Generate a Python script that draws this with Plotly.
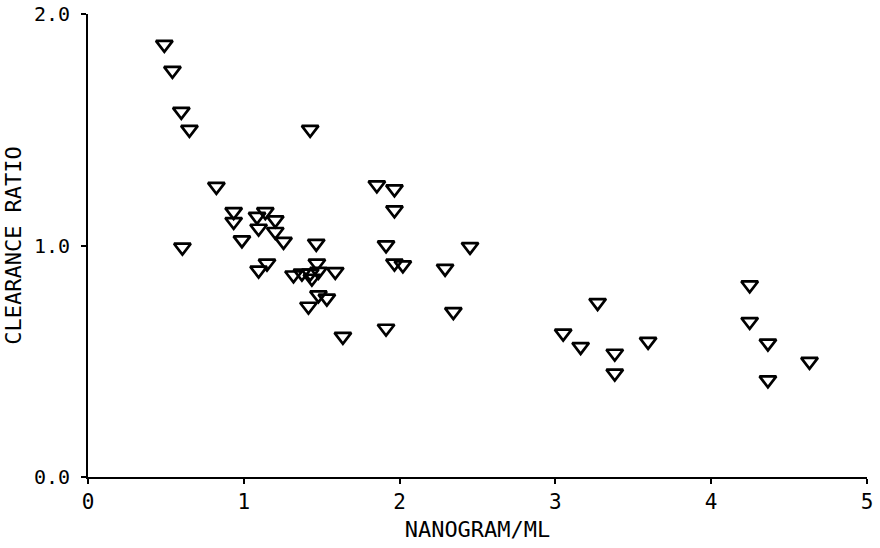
import plotly.graph_objects as go

# NANOGRAM/ML values (x)
nanogram_ml = [
    0.49, 0.542, 0.599, 0.651, 0.606, 0.824,
    0.935, 0.935, 0.988, 1.085, 1.138, 1.095, 1.202, 1.202, 1.255,
    1.095, 1.149,
    1.426, 1.465, 1.319, 1.373, 1.426, 1.479, 1.469, 1.587, 1.437,
    1.479, 1.533, 1.415, 1.636,
    1.854, 1.967, 1.967, 1.913, 1.967, 2.021, 2.452, 2.292, 2.345, 1.913,
    3.271, 3.050, 3.162, 3.381, 3.381, 3.595,
    4.247, 4.247, 4.364, 4.631, 4.364,
]
# CLEARANCE RATIO values (y)
clearance_ratio = [
    1.868, 1.756, 1.579, 1.501, 0.992, 1.255,
    1.146, 1.103, 1.024, 1.125, 1.146, 1.074, 1.110, 1.060, 1.017,
    0.893, 0.923,
    1.501, 1.009, 0.872, 0.880, 0.880, 0.888, 0.923, 0.887, 0.858,
    0.786, 0.772, 0.737, 0.607,
    1.261, 1.244, 1.153, 1.002, 0.923, 0.916, 0.995, 0.901, 0.714, 0.642,
    0.753, 0.621, 0.563, 0.534, 0.448, 0.585,
    0.829, 0.671, 0.578, 0.499, 0.419,
]

x_ticks = [0, 1, 2, 3, 4, 5]
x_tick_labels = ["0", "1", "2", "3", "4", "5"]
y_ticks = [0.0, 1.0, 2.0]
y_tick_labels = ["0.0", "1.0", "2.0"]

FONT = "DejaVu Sans Mono"

fig = go.Figure()
fig.add_trace(go.Scatter(
    x=nanogram_ml, y=clearance_ratio, mode="markers",
    marker=dict(symbol="triangle-down-open", size=14.5, color="black",
                line=dict(color="black", width=2.7)),
    showlegend=False,
    cliponaxis=False,
))

fig.update_layout(
    width=880, height=548,
    margin=dict(l=87.5, r=12.5, t=14, b=70.7, autoexpand=False),
    paper_bgcolor="white", plot_bgcolor="white",
    font=dict(family=FONT, color="black"),
    xaxis=dict(
        range=[0, 5], tickvals=x_ticks, ticktext=x_tick_labels,
        showline=True, linecolor="black", linewidth=2,
        ticks="outside", ticklen=5, tickwidth=2, tickcolor="black",
        showgrid=False, zeroline=False, automargin=False,
        ticklabeloverflow="allow",
        tickfont=dict(family=FONT, size=21),
        title=dict(text="NANOGRAM/ML", font=dict(family=FONT, size=22), standoff=8),
    ),
    yaxis=dict(
        range=[0, 2], tickvals=y_ticks, ticktext=y_tick_labels,
        showline=True, linecolor="black", linewidth=2,
        ticks="outside", ticklen=5, tickwidth=2, tickcolor="black",
        showgrid=False, zeroline=False, automargin=False,
        ticklabeloverflow="allow",
        tickfont=dict(family=FONT, size=20),
        ticklabelstandoff=7,
        title=dict(text="CLEARANCE RATIO", font=dict(family=FONT, size=22), standoff=6),
    ),
)

fig.write_html(
    "out.html",
    config={"displayModeBar": False},
    post_script="document.body.style.margin='0';document.body.style.overflow='hidden';",
)
